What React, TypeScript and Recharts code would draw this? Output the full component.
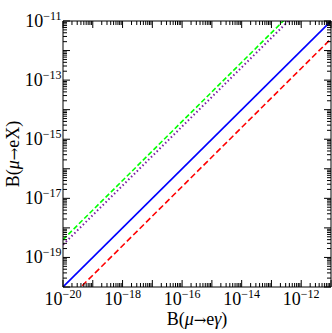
import React from 'react';
import { LineChart, Line, XAxis, YAxis } from 'recharts';

// B(mu->e gamma) sample points (x) and B(mu->eX) for each curve (y)
const xValues = [1e-20, 1e-11];
const blueValues = [1e-20, 1e-11];
const redValues = [2.5e-21, 2.5e-12];
const greenValues = [4e-19, 4e-10];
const purpleValues = [2.7e-19, 2.7e-10];

const minExp = -20;
const maxExp = -11;
const xLabelExps = [-20, -18, -16, -14, -12];
const yLabelExps = [-19, -17, -15, -13, -11];

const data = xValues.map((x, i) => ({
  x,
  blue: blueValues[i],
  red: redValues[i],
  green: greenValues[i],
  purple: purpleValues[i],
}));

function logTicks(): number[] {
  const t: number[] = [];
  for (let e = minExp; e < maxExp; e++) {
    for (let m = 1; m < 10; m++) t.push(Number(`${m}e${e}`));
  }
  t.push(Number(`1e${maxExp}`));
  return t;
}
const ticks = logTicks();
const domain: [number, number] = [Number(`1e${minExp}`), Number(`1e${maxExp}`)];

function info(v: number) {
  const lg = Math.log10(v);
  const e = Math.round(lg);
  return { e, major: Math.abs(lg - e) < 1e-9 };
}

const FONT = '"Liberation Serif", "Times New Roman", serif';
const ARROW_FONT = '"DejaVu Serif", serif';
const MAJ = 7;
const MIN = 4;

const Label10 = ({ x, y, anchor, e }: any) => (
  <text x={x} y={y} textAnchor={anchor} fontFamily={FONT} fontSize={18} fill="#000">
    <tspan>10</tspan>
    <tspan dy={-7} fontSize={12}>{`\u2212${Math.abs(e)}`}</tspan>
  </text>
);

const BottomTick = (props: any) => {
  const { x, y, payload } = props;
  const { e, major } = info(payload.value);
  return (
    <g>
      <line x1={x} y1={y} x2={x} y2={y - (major ? MAJ : MIN)} stroke="#000" strokeWidth={1} />
      {major && xLabelExps.includes(e) && <Label10 x={x} y={y + 18} anchor="middle" e={e} />}
    </g>
  );
};

const TopTick = (props: any) => {
  const { x, y, payload } = props;
  const { major } = info(payload.value);
  return <line x1={x} y1={y} x2={x} y2={y + (major ? MAJ : MIN)} stroke="#000" strokeWidth={1} />;
};

const LeftTick = (props: any) => {
  const { x, y, payload } = props;
  const { e, major } = info(payload.value);
  return (
    <g>
      <line x1={x} y1={y} x2={x + (major ? MAJ : MIN)} y2={y} stroke="#000" strokeWidth={1} />
      {major && yLabelExps.includes(e) && <Label10 x={x - 1.5} y={y + 6} anchor="end" e={e} />}
    </g>
  );
};

const RightTick = (props: any) => {
  const { x, y, payload } = props;
  const { major } = info(payload.value);
  return <line x1={x} y1={y} x2={x - (major ? MAJ : MIN)} y2={y} stroke="#000" strokeWidth={1} />;
};

const Arrow = () => (
  <tspan fontFamily={ARROW_FONT} fontSize={15}>→</tspan>
);

const BottomTitle = (props: any) => {
  const vb = props.viewBox || {};
  return (
    <text x={vb.x + vb.width / 2} y={vb.y + 38} textAnchor="middle" fontFamily={FONT} fontSize={18} fill="#000">
      B(<tspan fontStyle="italic">μ</tspan><Arrow /><tspan>e</tspan><tspan fontStyle="italic">γ</tspan>)
    </text>
  );
};

const LeftTitle = (props: any) => {
  const vb = props.viewBox || {};
  const cx = vb.x + 19;
  const cy = vb.y + vb.height / 2;
  return (
    <text x={cx} y={cy} transform={`rotate(-90 ${cx} ${cy})`} textAnchor="middle" fontFamily={FONT} fontSize={18} fill="#000">
      B(<tspan fontStyle="italic">μ</tspan><Arrow /><tspan>eX)</tspan>
    </text>
  );
};

export default function App() {
  return (
    <div style={{ position: 'absolute', left: 0, top: 0 }}>
      <LineChart width={332} height={333} data={data} margin={{ top: 0, right: 0, bottom: 0, left: 0 }}>
        <XAxis
          xAxisId="b"
          dataKey="x"
          type="number"
          scale="log"
          domain={domain}
          allowDataOverflow
          ticks={ticks}
          interval={0}
          tickSize={0}
          tickMargin={0}
          tickLine={false}
          tick={<BottomTick />}
          axisLine={{ stroke: '#000', strokeWidth: 1 }}
          height={46}
          orientation="bottom"
          label={(p: any) => <BottomTitle {...p} />}
        />
        <XAxis
          xAxisId="t"
          dataKey="x"
          type="number"
          scale="log"
          domain={domain}
          allowDataOverflow
          ticks={ticks}
          interval={0}
          tickSize={0}
          tickMargin={0}
          tickLine={false}
          tick={<TopTick />}
          axisLine={{ stroke: '#000', strokeWidth: 1 }}
          height={21}
          orientation="top"
        />
        <YAxis
          yAxisId="l"
          type="number"
          scale="log"
          domain={domain}
          allowDataOverflow
          ticks={ticks}
          interval={0}
          tickSize={0}
          tickMargin={0}
          tickLine={false}
          tick={<LeftTick />}
          axisLine={{ stroke: '#000', strokeWidth: 1 }}
          width={63}
          orientation="left"
          label={(p: any) => <LeftTitle {...p} />}
        />
        <YAxis
          yAxisId="r"
          type="number"
          scale="log"
          domain={domain}
          allowDataOverflow
          ticks={ticks}
          interval={0}
          tickSize={0}
          tickMargin={0}
          tickLine={false}
          tick={<RightTick />}
          axisLine={{ stroke: '#000', strokeWidth: 1 }}
          width={1}
          orientation="right"
        />
        <Line xAxisId="t" yAxisId="r" dataKey="blue" stroke="none" dot={false} isAnimationActive={false} />
        <Line xAxisId="b" yAxisId="l" dataKey="blue" stroke="#0000ff" strokeWidth={1.6} dot={false} isAnimationActive={false} />
        <Line xAxisId="b" yAxisId="l" dataKey="red" stroke="#ff0000" strokeWidth={1.6} strokeDasharray="6 3" dot={false} isAnimationActive={false} />
        <Line xAxisId="b" yAxisId="l" dataKey="green" stroke="#00ff00" strokeWidth={1.6} strokeDasharray="5 2.5" dot={false} isAnimationActive={false} />
        <Line xAxisId="b" yAxisId="l" dataKey="purple" stroke="#7b1fa2" strokeWidth={2} strokeDasharray="1.5 2.5" dot={false} isAnimationActive={false} />
      </LineChart>
    </div>
  );
}
